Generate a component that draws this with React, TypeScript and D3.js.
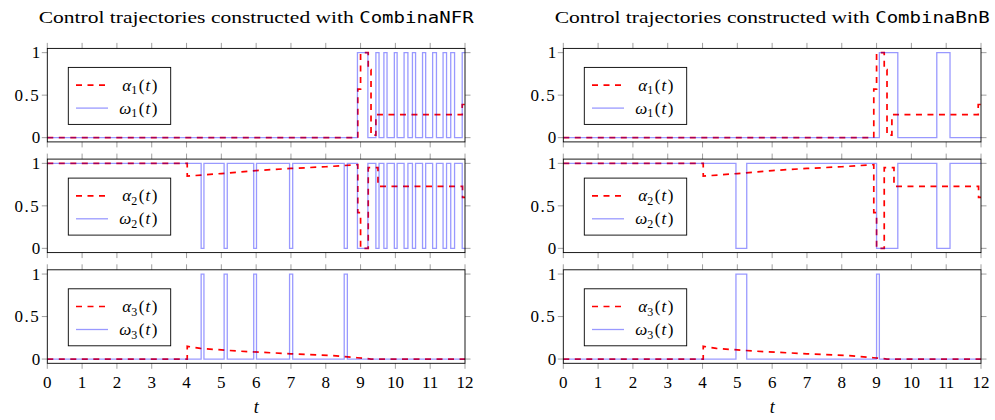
import React, { useEffect, useRef } from 'react';
import * as d3 from 'd3';

// tick values / labels
const xTicks = [0, 1, 2, 3, 4, 5, 6, 7, 8, 9, 10, 11, 12];
const yTicks = [0, 0.5, 1];
const yTickLabels = ['0', '0.5', '1'];

const solverNames = ['CombinaNFR', 'CombinaBnB'];

// relaxed controls alpha_i(t), shared by both columns: [t, value]
const alpha1 = [
  [0, 0], [8.92, 0], [8.92, 0.57], [9.0, 0.57], [9.0, 1], [9.22, 1], [9.22, 0.8],
  [9.3, 0.8], [9.3, 0.03], [9.44, 0.03], [9.44, 0.27], [11.92, 0.27], [11.92, 0.39], [12, 0.39],
];
const alpha2 = [
  [0, 1], [4.02, 1], [4.02, 0.85], [5, 0.88], [6, 0.915], [7, 0.94], [8, 0.96], [8.92, 0.985],
  [8.92, 0.42], [9.0, 0.42], [9.0, 0.0], [9.22, 0.0], [9.22, 0.95], [9.5, 0.95], [9.5, 0.73],
  [11.93, 0.73], [11.93, 0.6], [12, 0.6],
];
const alpha3 = [
  [0, 0], [4.02, 0], [4.02, 0.15], [4.4, 0.125], [5.5, 0.093], [7, 0.062], [8.2, 0.04],
  [8.9, 0.015], [9.2, 0.005], [9.3, 0], [12, 0],
];

// binary controls: intervals where omega_i(t) = 1 (omega_2 is the complement)
const nfrOmega1On = [
  [8.91, 9.21], [9.44, 9.53], [9.67, 9.76], [9.97, 10.05], [10.25, 10.36], [10.49, 10.58],
  [10.78, 10.87], [11.07, 11.18], [11.37, 11.47], [11.59, 11.7], [11.92, 12],
];
const nfrOmega3On = [[4.42, 4.5], [5.08, 5.17], [5.93, 6.01], [6.96, 7.05], [8.53, 8.62]];

const bnbOmega1On = [[9.08, 9.61], [10.73, 11.11]];
const bnbOmega3On = [[4.96, 5.27], [9.0, 9.08]];

const T_END = 12;

const mergeIntervals = (list) => {
  const sorted = [...list].sort((a, b) => a[0] - b[0]);
  const out = [];
  sorted.forEach(([a, b]) => {
    const last = out[out.length - 1];
    if (last && a <= last[1] + 1e-9) last[1] = Math.max(last[1], b);
    else out.push([a, b]);
  });
  return out;
};

// step points for a signal that is `hi` inside intervals and `lo` outside
const stepPoints = (intervals, lo, hi) => {
  const pts = [[0, lo]];
  mergeIntervals(intervals).forEach(([a, b]) => {
    pts.push([a, lo], [a, hi], [b, hi]);
    if (b < T_END) pts.push([b, lo]);
  });
  const last = pts[pts.length - 1];
  pts.push([T_END, last[1]]);
  return pts;
};

const columns = [
  {
    name: solverNames[0],
    omega: [
      stepPoints(nfrOmega1On, 0, 1),
      stepPoints([...nfrOmega1On, ...nfrOmega3On], 1, 0),
      stepPoints(nfrOmega3On, 0, 1),
    ],
  },
  {
    name: solverNames[1],
    omega: [
      stepPoints(bnbOmega1On, 0, 1),
      stepPoints([...bnbOmega1On, ...bnbOmega3On], 1, 0),
      stepPoints(bnbOmega3On, 0, 1),
    ],
  },
];
const alphas = [alpha1, alpha2, alpha3];

const App = () => {
  const chartRef = useRef();

  useEffect(() => {
    const width = 995;
    const height = 420;
    const panelTops = [48.4, 159.1, 269.8];
    const panelH = 93.5;
    const colLeft = [47.3, 563.3];
    const colW = 417.7;
    const serif = 'Liberation Serif';
    const mono = 'DejaVu Sans Mono';

    const svg = d3.select(chartRef.current)
      .attr('width', width)
      .attr('height', height);
    svg.selectAll('*').remove();

    columns.forEach((col, ci) => {
      const x = d3.scaleLinear().domain([0, 12]).range([colLeft[ci], colLeft[ci] + colW]);
      const g = svg.append('g');

      // title
      const title = g.append('text')
        .attr('x', colLeft[ci] + colW / 2)
        .attr('y', 23)
        .attr('text-anchor', 'middle')
        .attr('textLength', 435)
        .attr('lengthAdjust', 'spacingAndGlyphs')
        .attr('font-family', serif)
        .attr('font-size', 17);
      title.append('tspan').text('Control trajectories constructed with ');
      title.append('tspan').attr('font-family', mono).attr('font-size', 15).text(col.name);

      panelTops.forEach((top, pi) => {
        const y = d3.scaleLinear().domain([-0.05, 1.05]).range([top + panelH, top]);
        const p = g.append('g');
        const x0 = x.range()[0];
        const x1 = x.range()[1];

        // ticks (outside)
        const tl = 5.5;
        xTicks.forEach(t => {
          p.append('line').attr('x1', x(t)).attr('x2', x(t))
            .attr('y1', top).attr('y2', top - tl)
            .attr('stroke', '#888').attr('stroke-width', 0.8);
          p.append('line').attr('x1', x(t)).attr('x2', x(t))
            .attr('y1', top + panelH).attr('y2', top + panelH + tl)
            .attr('stroke', '#888').attr('stroke-width', 0.8);
        });
        yTicks.forEach((v, i) => {
          p.append('line').attr('x1', x0).attr('x2', x0 - tl)
            .attr('y1', y(v)).attr('y2', y(v))
            .attr('stroke', '#888').attr('stroke-width', 0.8);
          p.append('line').attr('x1', x1).attr('x2', x1 + tl)
            .attr('y1', y(v)).attr('y2', y(v))
            .attr('stroke', '#888').attr('stroke-width', 0.8);
          p.append('text')
            .attr('x', x0 - 7)
            .attr('y', y(v))
            .attr('dy', '0.34em')
            .attr('text-anchor', 'end')
            .attr('font-family', serif)
            .attr('font-size', 17)
            .attr('letter-spacing', v === 0.5 ? 1.5 : 0)
            .text(yTickLabels[i]);
        });

        const line = d3.line().x(d => x(d[0])).y(d => y(d[1]));

        // alpha (relaxed) - red dashed
        p.append('path')
          .datum(alphas[pi])
          .attr('d', line)
          .attr('fill', 'none')
          .attr('stroke', '#ff0000')
          .attr('stroke-width', 1.7)
          .attr('stroke-dasharray', '6,5.5');

        // omega (binary) - light blue
        p.append('path')
          .datum(col.omega[pi])
          .attr('d', line)
          .attr('fill', 'none')
          .attr('stroke', '#0000ff')
          .attr('stroke-opacity', 0.4)
          .attr('stroke-width', 1.3);

        // frame
        p.append('rect')
          .attr('x', x0).attr('y', top)
          .attr('width', colW).attr('height', panelH)
          .attr('fill', 'none')
          .attr('stroke', '#000')
          .attr('stroke-width', 0.9);

        // legend
        const lx = x0 + 21;
        const ly = top + 19;
        const lg = p.append('g');
        lg.append('rect')
          .attr('x', lx).attr('y', ly)
          .attr('width', 102.4).attr('height', 57)
          .attr('fill', '#fff')
          .attr('stroke', '#000')
          .attr('stroke-width', 0.9);
        const rows = [
          { sym: '\u03b1', color: '#ff0000', dash: '6,5.5', w: 1.7, op: 1, len: 40 },
          { sym: '\u03c9', color: '#0000ff', dash: null, w: 1.3, op: 0.4, len: 45 },
        ];
        rows.forEach((r, ri) => {
          const ry = ly + 17.7 + ri * 23;
          lg.append('line')
            .attr('x1', lx + 7.7).attr('x2', lx + 39.7)
            .attr('y1', ry).attr('y2', ry)
            .attr('stroke', r.color)
            .attr('stroke-opacity', r.op)
            .attr('stroke-width', r.w)
            .attr('stroke-dasharray', r.dash);
          const txt = lg.append('text')
            .attr('x', lx + 89)
            .attr('y', ry)
            .attr('dy', '0.33em')
            .attr('text-anchor', 'end')
            .attr('font-family', serif)
            .attr('font-size', 17);
          txt.append('tspan').attr('font-style', 'italic').text(r.sym);
          txt.append('tspan').attr('dy', 3.5).attr('font-size', 12).text(String(pi + 1));
          txt.append('tspan').attr('dy', -3.5).attr('dx', 1.5).text('(');
          txt.append('tspan').attr('font-style', 'italic').attr('dx', 1).text('t');
          txt.append('tspan').attr('dx', 1.5).text(')');
        });

        // x tick labels under the last panel
        if (pi === panelTops.length - 1) {
          xTicks.forEach(t => {
            p.append('text')
              .attr('x', x(t))
              .attr('y', top + panelH + 24.5)
              .attr('text-anchor', 'middle')
              .attr('font-family', serif)
              .attr('font-size', 17)
              .text(String(t));
          });
          p.append('text')
            .attr('x', colLeft[ci] + colW / 2)
            .attr('y', top + panelH + 50)
            .attr('text-anchor', 'middle')
            .attr('font-family', serif)
            .attr('font-style', 'italic')
            .attr('font-size', 18)
            .text('t');
        }
      });
    });
  }, []);

  return (
    <div>
      <svg ref={chartRef} style={{ position: 'absolute', left: 0, top: 0 }}></svg>
    </div>
  );
};

export default App;
